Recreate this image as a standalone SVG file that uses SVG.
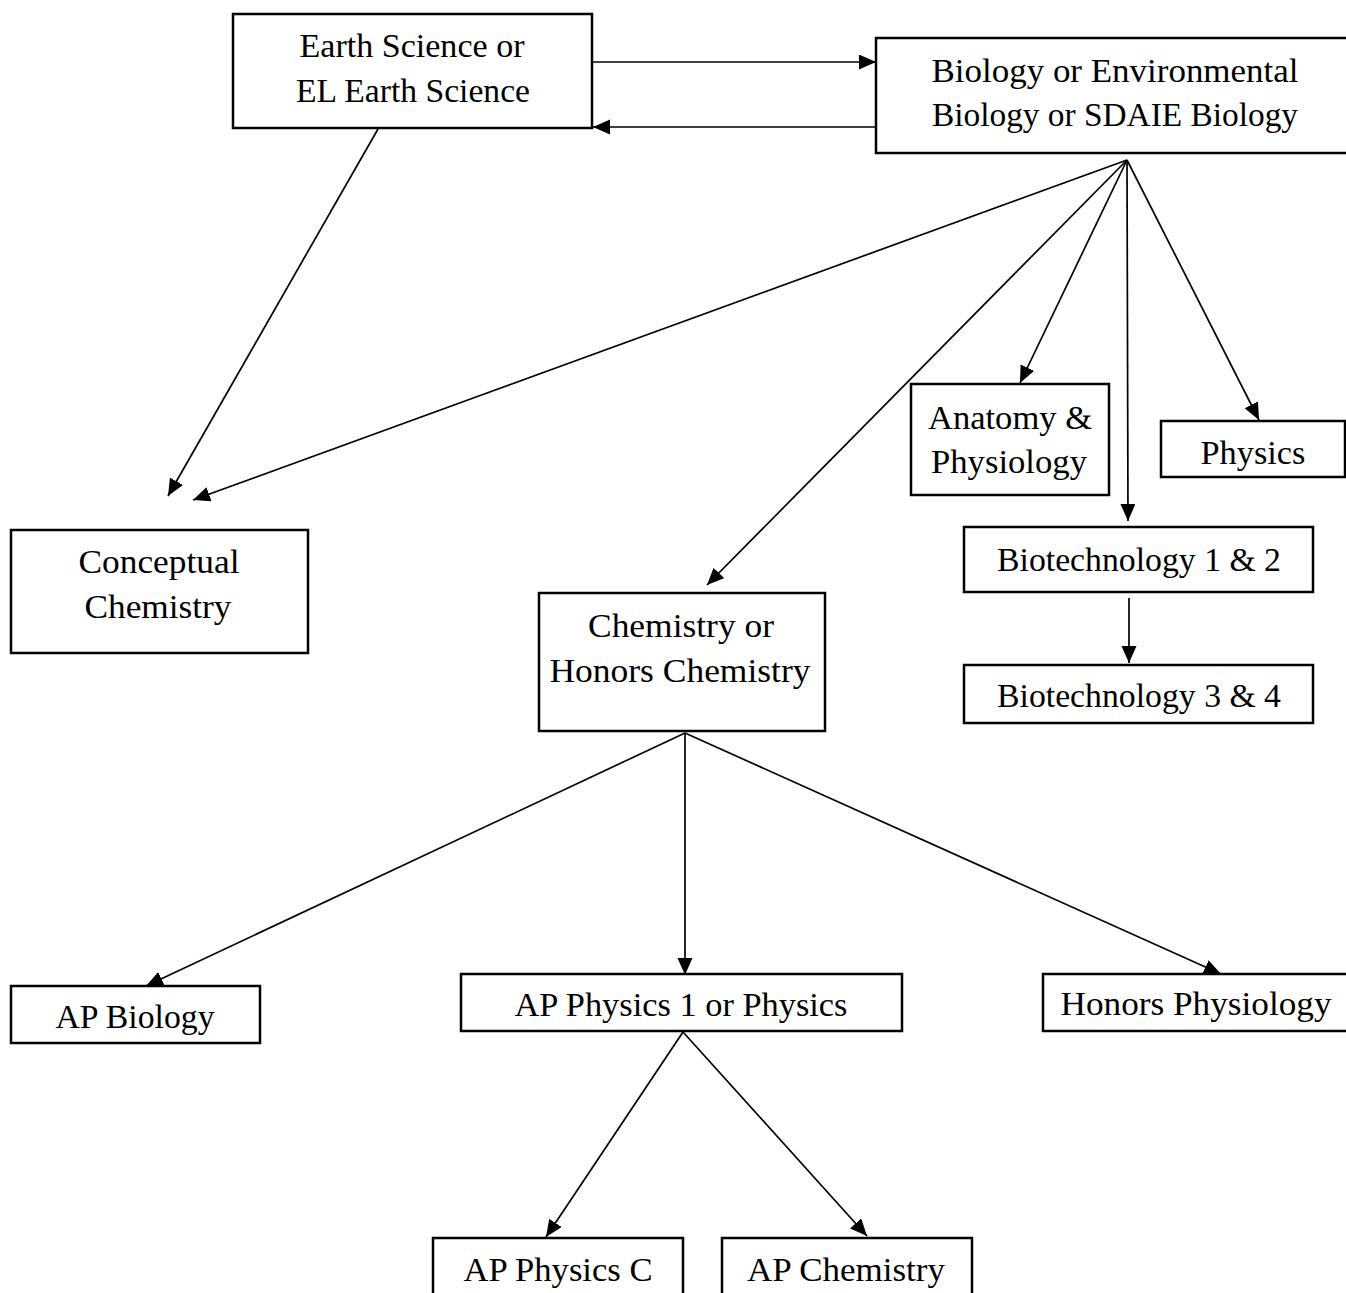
<svg xmlns="http://www.w3.org/2000/svg" width="1346" height="1293" viewBox="0 0 1346 1293">
<style>
.box{fill:#fff;stroke:#000;stroke-width:2.5}
.t{font-family:"Liberation Serif","Times New Roman",serif;font-size:34px;fill:#000;text-anchor:middle}
.c{fill:none;stroke:#000;stroke-width:1.7}
</style>
<defs>
<marker id="ah" markerUnits="userSpaceOnUse" markerWidth="20" markerHeight="16" refX="17" refY="7.5" orient="auto">
<path d="M0,0 L17,7.5 L0,15 z" fill="#000"/>
</marker>
</defs>
<rect width="1346" height="1293" fill="#fff"/>
<g id="connectors">
<line class="c" x1="592" y1="62" x2="876" y2="62" marker-end="url(#ah)"/>
<line class="c" x1="876" y1="127" x2="593" y2="127" marker-end="url(#ah)"/>
<line class="c" x1="378" y1="129" x2="168" y2="496" marker-end="url(#ah)"/>
<line class="c" x1="1127" y1="160" x2="193" y2="500" marker-end="url(#ah)"/>
<line class="c" x1="1127" y1="160" x2="707" y2="585" marker-end="url(#ah)"/>
<line class="c" x1="1127" y1="160" x2="1020" y2="383" marker-end="url(#ah)"/>
<line class="c" x1="1127" y1="160" x2="1128" y2="521" marker-end="url(#ah)"/>
<line class="c" x1="1127" y1="160" x2="1259" y2="420" marker-end="url(#ah)"/>
<line class="c" x1="1129" y1="598" x2="1129" y2="663" marker-end="url(#ah)"/>
<line class="c" x1="685" y1="733" x2="146" y2="986" marker-end="url(#ah)"/>
<line class="c" x1="685" y1="733" x2="685" y2="975" marker-end="url(#ah)"/>
<line class="c" x1="685" y1="733" x2="1221" y2="974" marker-end="url(#ah)"/>
<line class="c" x1="683" y1="1032" x2="546" y2="1237" marker-end="url(#ah)"/>
<line class="c" x1="683" y1="1032" x2="867" y2="1236" marker-end="url(#ah)"/>
</g>
<g id="earth-science">
<rect class="box" x="233" y="14" width="359" height="114"/>
<text class="t" x="412" y="57" textLength="225" lengthAdjust="spacingAndGlyphs">Earth Science or</text>
<text class="t" x="413" y="102" textLength="234" lengthAdjust="spacingAndGlyphs">EL Earth Science</text>
</g>
<g id="biology">
<rect class="box" x="876" y="38" width="480" height="115"/>
<text class="t" x="1115" y="82" textLength="367" lengthAdjust="spacingAndGlyphs">Biology or Environmental</text>
<text class="t" x="1115" y="126" textLength="366" lengthAdjust="spacingAndGlyphs">Biology or SDAIE Biology</text>
</g>
<g id="anatomy">
<rect class="box" x="911" y="384" width="198" height="111"/>
<text class="t" x="1010" y="429" textLength="164" lengthAdjust="spacingAndGlyphs">Anatomy &amp;</text>
<text class="t" x="1009" y="473" textLength="156" lengthAdjust="spacingAndGlyphs">Physiology</text>
</g>
<g id="physics">
<rect class="box" x="1161" y="421" width="184" height="56"/>
<text class="t" x="1253" y="464" textLength="105" lengthAdjust="spacingAndGlyphs">Physics</text>
</g>
<g id="biotech12">
<rect class="box" x="964" y="527" width="349" height="65"/>
<text class="t" x="1139" y="571" textLength="284" lengthAdjust="spacingAndGlyphs">Biotechnology 1 &amp; 2</text>
</g>
<g id="biotech34">
<rect class="box" x="964" y="665" width="349" height="58"/>
<text class="t" x="1139" y="707" textLength="284" lengthAdjust="spacingAndGlyphs">Biotechnology 3 &amp; 4</text>
</g>
<g id="conceptual-chemistry">
<rect class="box" x="11" y="530" width="297" height="123"/>
<text class="t" x="159" y="573" textLength="161" lengthAdjust="spacingAndGlyphs">Conceptual</text>
<text class="t" x="158" y="618" textLength="147" lengthAdjust="spacingAndGlyphs">Chemistry</text>
</g>
<g id="chemistry">
<rect class="box" x="539" y="593" width="286" height="138"/>
<text class="t" x="681" y="637" textLength="186" lengthAdjust="spacingAndGlyphs">Chemistry or</text>
<text class="t" x="680" y="682" textLength="261" lengthAdjust="spacingAndGlyphs">Honors Chemistry</text>
</g>
<g id="ap-biology">
<rect class="box" x="11" y="986" width="249" height="57"/>
<text class="t" x="135" y="1028" textLength="159" lengthAdjust="spacingAndGlyphs">AP Biology</text>
</g>
<g id="ap-physics-1">
<rect class="box" x="461" y="974" width="441" height="57"/>
<text class="t" x="681" y="1016" textLength="333" lengthAdjust="spacingAndGlyphs">AP Physics 1 or Physics</text>
</g>
<g id="honors-physiology">
<rect class="box" x="1043" y="974" width="320" height="57"/>
<text class="t" x="1196" y="1015" textLength="271" lengthAdjust="spacingAndGlyphs">Honors Physiology</text>
</g>
<g id="ap-physics-c">
<rect class="box" x="433" y="1238" width="250" height="70"/>
<text class="t" x="558" y="1281" textLength="189" lengthAdjust="spacingAndGlyphs">AP Physics C</text>
</g>
<g id="ap-chemistry">
<rect class="box" x="722" y="1238" width="250" height="70"/>
<text class="t" x="846" y="1281" textLength="198" lengthAdjust="spacingAndGlyphs">AP Chemistry</text>
</g>
</svg>
